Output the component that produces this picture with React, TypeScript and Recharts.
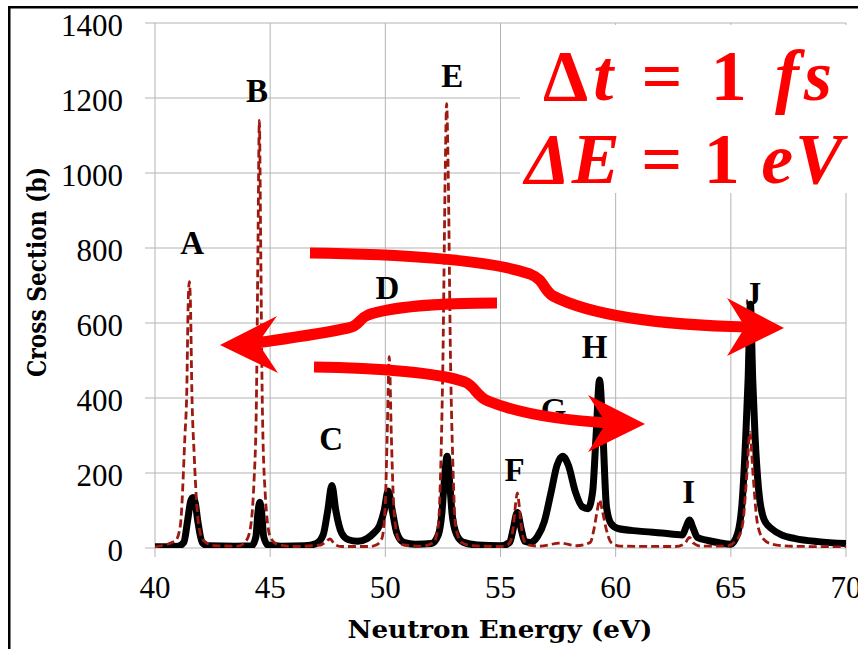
import React from 'react';
import { ComposedChart, Line, Scatter, XAxis, YAxis, CartesianGrid } from 'recharts';

// broadened cross section (thick black)
const energyBroad = [
  40, 41.0, 41.25, 41.42, 41.55, 41.65, 41.75, 41.85, 42.05, 42.3, 43.5, 44.2, 44.38, 44.47, 44.55, 44.63,
  44.72, 44.9, 45.5, 46.5, 47.0, 47.3, 47.5, 47.68, 47.85, 48.1, 48.4, 48.8, 49.2, 49.5, 49.75, 49.95, 50.12,
  50.3, 50.5, 50.8, 51.3, 52.0, 52.3, 52.45, 52.55, 52.68, 52.8, 52.9, 53.1, 53.4, 54.0, 55.0, 55.4, 55.55,
  55.73, 55.9, 56.05, 56.3, 56.6, 56.9, 57.2, 57.45, 57.7, 57.95, 58.25, 58.55, 58.8, 59.0, 59.15, 59.3, 59.45,
  59.6, 59.8, 60.1, 61.0, 62.0, 62.9, 63.05, 63.2, 63.35, 63.55, 64.0, 64.5, 65.0, 65.3, 65.5, 65.65, 65.75,
  65.85, 65.95, 66.05, 66.2, 66.45, 66.8, 67.2, 67.8, 68.8, 70,
];
const xsBroad = [
  3, 5, 15, 75, 125, 135, 120, 75, 15, 6, 5, 6, 30, 95, 122, 95,
  30, 8, 5, 6, 12, 35, 100, 167, 100, 40, 22, 18, 25, 40, 60, 100, 152,
  100, 40, 15, 10, 12, 35, 90, 170, 245, 170, 90, 35, 15, 8, 6, 15, 50,
  95, 50, 18, 15, 30, 70, 150, 220, 245, 220, 150, 110, 105, 150, 300, 448, 300,
  110, 65, 52, 45, 40, 35, 55, 75, 55, 28, 20, 14, 10, 40, 130, 300, 450,
  650, 450, 300, 160, 75, 50, 35, 25, 17, 12,
];

// resonance cross section (dashed dark red)
const energyRes = [
  40, 40.9, 41.1, 41.3, 41.38, 41.44, 41.49, 41.54, 41.6, 41.7, 41.9, 42.1, 42.6, 43.6, 43.9, 44.1, 44.3, 44.4,
  44.47, 44.53, 44.59, 44.66, 44.78, 45.0, 45.3, 46.0, 47.2, 47.4, 47.6, 47.8, 48.1, 49.3, 49.6, 49.85, 50.0,
  50.08, 50.17, 50.26, 50.36, 50.55, 50.8, 51.6, 52.1, 52.3, 52.42, 52.5, 52.6, 52.66, 52.73, 52.83, 52.92,
  53.05, 53.3, 53.8, 55.0, 55.3, 55.45, 55.58, 55.66, 55.73, 55.8, 55.88, 56.02, 56.2, 56.7, 57.6, 58.3, 58.9,
  59.05, 59.2, 59.3, 59.42, 59.6, 59.8, 60.2, 62.6, 63.0, 63.2, 63.4, 63.7, 64.8, 65.3, 65.52, 65.7, 65.83,
  65.96, 66.15, 66.4, 66.8, 67.5, 70,
];
const xsRes = [
  3, 20, 60, 300, 420, 650, 710, 650, 420, 250, 60, 20, 6, 5, 15, 40, 180, 380,
  800, 1140, 800, 380, 150, 30, 10, 4, 8, 16, 24, 10, 4, 4, 8, 25, 120,
  300, 510, 300, 120, 25, 8, 5, 15, 60, 250, 500, 1000, 1185, 1000, 500, 250,
  60, 15, 6, 4, 8, 20, 70, 120, 147, 120, 70, 20, 8, 5, 13, 6, 15,
  48, 100, 128, 100, 48, 15, 5, 4, 12, 28, 12, 5, 5, 25, 67, 200, 309,
  200, 67, 25, 10, 5, 3,
];

const peakNames = ['A', 'B', 'C', 'D', 'E', 'F', 'G', 'H', 'I', 'J'];
const labelE = [41.61, 44.43, 47.65, 50.09, 52.91, 55.61, 57.3, 59.09, 63.17, 65.96];
const labelXs = [813, 1219, 291, 693, 1259, 208, 368, 536, 149, 677];

const xTicks = [40, 45, 50, 55, 60, 65, 70];
const yTicks = [0, 200, 400, 600, 800, 1000, 1200, 1400];

const broadData = energyBroad.map((x, i) => ({ x, y: xsBroad[i] }));
const resData = energyRes.map((x, i) => ({ x, y: xsRes[i] }));
const labelData = peakNames.map((name, i) => ({ x: labelE[i], y: labelXs[i], name }));

const GRID = '#b3b3b3';
const RED = '#ff0000';
const tickFont = 'Liberation Serif, serif';

const XTick = (props: any) => (
  <text x={props.x} y={props.y + 41} textAnchor="middle" fontFamily={tickFont} fontSize={31} fill="#000">
    {props.payload.value}
  </text>
);

const YTick = (props: any) => (
  <text x={props.x} y={props.y + 13} textAnchor="end" fontFamily={tickFont} fontSize={31} fill="#000">
    {props.payload.value}
  </text>
);

const PeakLabel = (props: any) => (
  <text
    x={props.cx}
    y={props.cy}
    dy="0.33em"
    textAnchor="middle"
    fontFamily="Liberation Serif, serif"
    fontWeight="bold"
    fontSize={33}
    fill="#000"
  >
    {props.payload.name}
  </text>
);

export default function App() {
  return (
    <div style={{ position: 'fixed', left: 0, top: 0, width: 858, height: 649, overflow: 'hidden', background: '#fff' }}>
      <ComposedChart width={858} height={649} margin={{ top: 23, right: 12, bottom: 0, left: 0 }}>
        <CartesianGrid stroke={GRID} strokeWidth={1} />
        <XAxis
          type="number"
          dataKey="x"
          domain={[40, 70]}
          ticks={xTicks}
          allowDataOverflow
          height={101}
          tickSize={9}
          tickMargin={0}
          axisLine={false}
          tickLine={{ stroke: GRID }}
          tick={XTick}
        />
        <YAxis
          type="number"
          domain={[0, 1400]}
          ticks={yTicks}
          allowDataOverflow
          width={155}
          tickSize={10}
          tickMargin={22}
          axisLine={false}
          tickLine={{ stroke: GRID }}
          tick={YTick}
        />
        <Line
          data={broadData}
          dataKey="y"
          type="monotone"
          stroke="#000"
          strokeWidth={7}
          dot={false}
          activeDot={false}
          isAnimationActive={false}
        />
        <Line
          data={resData}
          dataKey="y"
          type="monotone"
          stroke="#9e1a10"
          strokeWidth={2.8}
          strokeDasharray="8 4"
          dot={false}
          activeDot={false}
          isAnimationActive={false}
        />
        <Scatter data={labelData} dataKey="y" shape={PeakLabel} isAnimationActive={false} />
      </ComposedChart>

      <svg width={858} height={649} style={{ position: 'absolute', left: 0, top: 0, pointerEvents: 'none' }}>
        <rect x={520} y={25} width={338} height={168} fill="#fff" />
        <text
          x={543}
          y={100}
          fontFamily="Liberation Serif, serif"
          fontWeight="bold"
          fontSize={72}
          fill={RED}
          textLength={289}
          lengthAdjust="spacing"
        >
          <tspan>Δ</tspan>
          <tspan fontStyle="italic">t</tspan>
          <tspan>{' = 1 '}</tspan>
          <tspan fontStyle="italic">fs</tspan>
        </text>
        <text
          x={525}
          y={183}
          fontFamily="Liberation Serif, serif"
          fontWeight="bold"
          fontSize={72}
          fill={RED}
          textLength={318}
          lengthAdjust="spacing"
        >
          <tspan fontStyle="italic">ΔE</tspan>
          <tspan>{' = 1 '}</tspan>
          <tspan fontStyle="italic">eV</tspan>
        </text>

        <g fill="none" stroke={RED} strokeWidth={11}>
          <path d="M310 253 C 400 254, 490 260, 530 274 C 545 280, 543 290, 553 296 C 590 315, 660 325, 748 327" />
          <path d="M497 303 C 440 303, 390 307, 368 315 C 358 319, 360 326, 348 328 C 320 334, 290 338, 256 343" />
          <path d="M314 367 C 380 368, 440 373, 465 382 C 475 386, 476 396, 488 401 C 520 414, 560 420, 608 423" />
        </g>
        <g fill={RED}>
          <polygon points="784,328 727,298 745,327 727,356" />
          <polygon points="220,345 277,316 258,343 278,373" />
          <polygon points="645,424 588,395 606,423 588,452" />
        </g>

        <rect x={9.25} y={7.25} width={900} height={700} fill="none" stroke="#000" strokeWidth={2.5} />

        <text
          x={500}
          y={638}
          textAnchor="middle"
          fontFamily="DejaVu Serif, serif"
          fontWeight="bold"
          fontSize={25}
          textLength={305}
          lengthAdjust="spacingAndGlyphs"
          fill="#000"
        >
          Neutron Energy (eV)
        </text>
        <text
          transform="translate(46,272) rotate(-90)"
          textAnchor="middle"
          fontFamily="DejaVu Serif, serif"
          fontWeight="bold"
          fontSize={26}
          textLength={210}
          lengthAdjust="spacingAndGlyphs"
          fill="#000"
        >
          Cross Section (b)
        </text>
      </svg>
    </div>
  );
}
